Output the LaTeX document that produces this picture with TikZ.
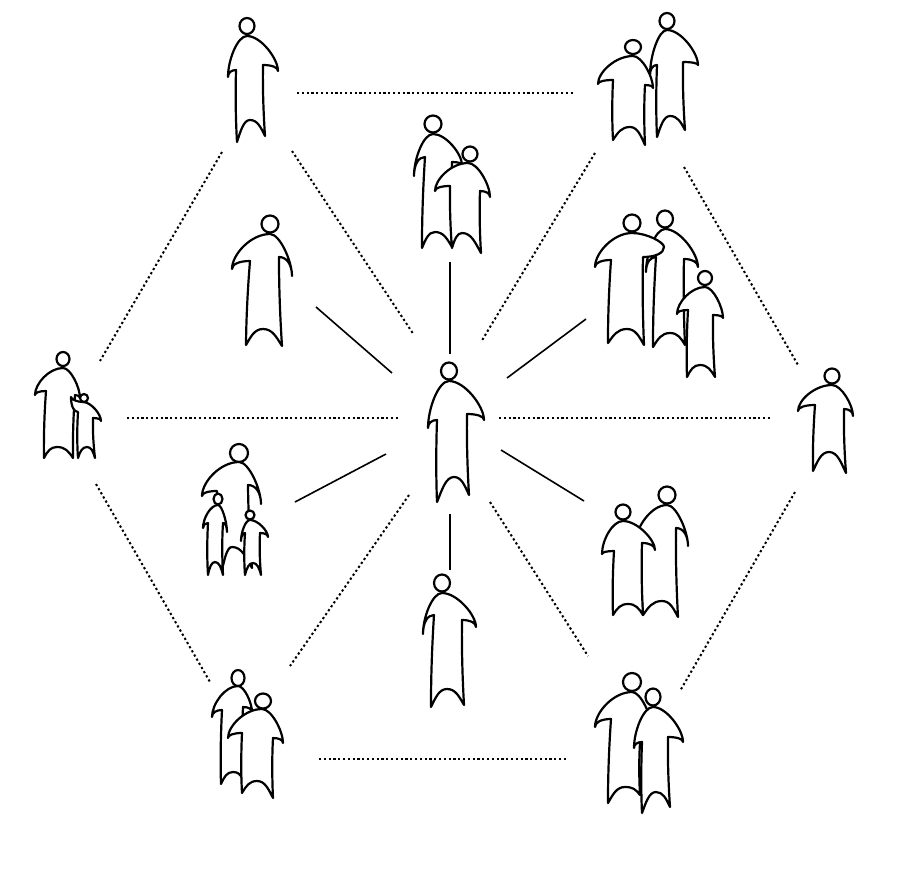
\documentclass[tikz,border=0pt]{standalone}
\usetikzlibrary{calc}
\tikzset{
    figure/.style={
        draw,
        fill=white,
        line width=2.2pt,
        line join=round,
        line cap=round
    }
}
% head: centre, radii
\newcommand{\head}[3]{\path[figure] (#1) ellipse[x radius=#2,y radius=#3];}
% body: top, left arm tip, left armpit, left foot, notch, right foot, right armpit, right arm tip
\newcommand{\figbody}[8]{%
    \coordinate (t) at (#1);
    \coordinate (la) at (#2);
    \coordinate (ln) at (#3);
    \coordinate (lf) at (#4);
    \coordinate (m) at (#5);
    \coordinate (rf) at (#6);
    \coordinate (rn) at (#7);
    \coordinate (ra) at (#8);
    \path[figure]
        (t) .. controls ($(t)!.5!(la |- t)$) and ($(la)!.42!(la |- t)$) .. (la)
        .. controls ($(la)!.6!(la |- ln)$) and ($(ln)!.6!(la |- ln)$) .. (ln)
        .. controls ($(ln)!.35!(lf)+(-1,0)$) and ($(ln)!.7!(lf)+(-1,0)$) .. (lf)
        .. controls ($(lf)!.35!(m)+(-1,-3)$) and ($(m)!.5!(lf |- m)$) .. (m)
        .. controls ($(m)!.5!(rf |- m)$) and ($(rf)!.35!(m)+(1,-3)$) .. (rf)
        .. controls ($(rf)!.35!(rn)+(-1,0)$) and ($(rf)!.7!(rn)+(-1,0)$) .. (rn)
        .. controls ($(rn)!.6!(ra |- rn)$) and ($(ra)!.6!(ra |- rn)$) .. (ra)
        .. controls ($(ra)!.35!(ra |- t)$) and ($(t)!.45!(ra |- t)$) .. cycle;
}
\begin{document}
\begin{tikzpicture}[
    x=1pt,
    y=-1pt,
    link/.style={
        line width=1.6pt
    },
    dotlink/.style={
        line width=2pt,
        dash pattern=on 2.2pt off 2.6pt
    }
]
    \useasboundingbox (0,0) rectangle (902,871);

    % Figures on the ring
    \head{247,26}{7.5}{8}
    \figbody{247,36}{228,77}{236,70}{237,142}{250,120}{265,136}{263,65}{278,71}

    \head{667,21}{7.5}{8}
    \figbody{667,30}{650,75}{657,65}{657,137}{670,116}{685,130}{683,62}{698,65}
    \head{633,47}{8}{7}
    \figbody{633,56}{598,84}{613,80}{613,140}{630,127}{645,145}{645,85}{653,88}

    \head{832,376}{7.5}{7.5}
    \figbody{832,385}{798,411}{815,405}{813,471}{829,452}{846,473}{844,409}{853,416}

    \head{632,682}{9}{9}
    \figbody{632,692}{595,727}{611,719}{608,803}{625,787}{640,795}{640,743}{652,730}
    \head{653,697}{7.5}{8.5}
    \figbody{653,707}{634,748}{642,742}{642,813}{656,792}{670,807}{668,737}{683,742}

    \head{238,678}{6.5}{8}
    \figbody{238,686}{212,717}{222,710}{221,784}{233,772}{243,780}{243,707}{252,712}
    \head{263,701}{8}{7.5}
    \figbody{262,709}{228,738}{242,733}{242,793}{257,781}{273,798}{273,738}{283,743}

    \head{63,359}{6.5}{7}
    \figbody{63,368}{35,395}{46,391}{44,458}{57,447}{73,458}{75,395}{80,398}
    \head{84,398}{4}{4}
    \figbody{83,402}{71,397}{78,412}{78,458}{87,447}{95,458}{93,418}{101,421}

    % Figures inside
    \head{270,224}{8.5}{8.5}
    \figbody{270,234}{232,269}{250,261}{246,345}{263,329}{282,346}{279,257}{292,276}

    \head{433,124}{8.5}{8.5}
    \figbody{433,134}{414,176}{425,157}{422,248}{435,232}{452,247}{452,162}{462,165}
    \head{470,154}{7.5}{7.5}
    \figbody{468,163}{435,191}{450,186}{452,248}{462,233}{481,253}{480,191}{490,197}

    \head{665,219}{8}{8.5}
    \figbody{665,229}{646,272}{656,257}{653,347}{670,333}{685,345}{684,259}{698,267}
    \head{632,223}{8.5}{8.5}
    \figbody{632,233}{595,267}{611,260}{608,343}{627,329}{644,345}{643,257}{664,247}
    \head{705,278}{7}{7}
    \figbody{705,287}{677,314}{688,310}{687,377}{700,365}{715,377}{713,315}{723,318}

    \head{667,495}{8.5}{8.5}
    \figbody{667,505}{635,545}{640,540}{643,615}{662,601}{678,617}{676,528}{688,546}
    \head{623,512}{7.5}{7.5}
    \figbody{623,521}{602,554}{614,551}{613,615}{628,604}{643,615}{642,543}{655,550}

    \head{442,583}{8}{8.5}
    \figbody{442,593}{423,634}{434,615}{431,707}{447,689}{464,705}{462,620}{476,627}

    \head{239,453}{9}{9}
    \figbody{239,462}{202,496}{217,491}{222,570}{232,547}{252,568}{248,485}{261,504}
    \head{218,499}{4.5}{5.5}
    \figbody{218,505}{203,528}{208,523}{208,575}{215,562}{223,575}{223,523}{227,532}
    \head{250,515}{4.5}{4.5}
    \figbody{250,520}{241,541}{245,533}{245,575}{253,563}{261,575}{260,533}{268,537}

    \head{449,371}{8}{8.5}
    \figbody{449,381}{428,428}{437,420}{437,502}{454,477}{469,495}{467,414}{484,420}

    % Free ends of the lines
    \coordinate (a1) at (297,93);
    \coordinate (a2) at (575,93);
    \coordinate (b1) at (319,759);
    \coordinate (b2) at (566,759);
    \coordinate (c1) at (127,418);
    \coordinate (c2) at (398,418);
    \coordinate (d1) at (499,418);
    \coordinate (d2) at (770,418);
    \coordinate (e1) at (222,152);
    \coordinate (e2) at (100,361);
    \coordinate (f1) at (292,151);
    \coordinate (f2) at (414,335);
    \coordinate (g1) at (595,153);
    \coordinate (g2) at (481,342);
    \coordinate (h1) at (684,167);
    \coordinate (h2) at (798,365);
    \coordinate (i1) at (795,492);
    \coordinate (i2) at (680,691);
    \coordinate (j1) at (490,502);
    \coordinate (j2) at (588,656);
    \coordinate (k1) at (409,495);
    \coordinate (k2) at (290,666);
    \coordinate (l1) at (96,484);
    \coordinate (l2) at (210,682);
    \coordinate (m1) at (450,262);
    \coordinate (m2) at (450,354);
    \coordinate (n1) at (316,307);
    \coordinate (n2) at (392,373);
    \coordinate (o1) at (586,319);
    \coordinate (o2) at (507,378);
    \coordinate (p1) at (501,450);
    \coordinate (p2) at (584,501);
    \coordinate (q1) at (450,514);
    \coordinate (q2) at (450,570);
    \coordinate (r1) at (386,454);
    \coordinate (r2) at (295,502);

    \foreach \s in {a,b,c,d,e,f,g,h,i,j,k,l}
        \draw[dotlink] (\s1) -- (\s2);

    \foreach \s in {m,n,o,p,q,r}
        \draw[link] (\s1) -- (\s2);
\end{tikzpicture}
\end{document}
